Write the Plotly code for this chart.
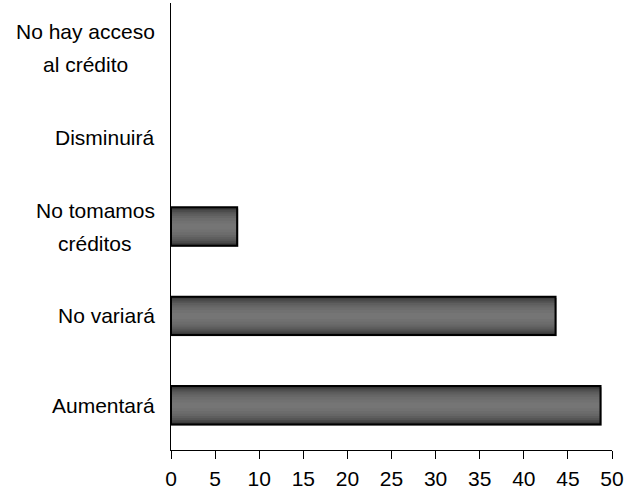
import plotly.graph_objects as go

categories = ["Aumentará", "No variará", "No tomamos<br>créditos", "Disminuirá", "No hay acceso<br>al crédito"]
values = [48.7, 43.6, 7.5, 0, 0]
x_ticks = [0, 5, 10, 15, 20, 25, 30, 35, 40, 45, 50]

FONT = "Liberation Sans, Arial, sans-serif"
FSIZE = 21
BAR_W = 0.43

# gradient layers: (width, color) from outside to inside
layers = [
    (0.43, "#303030"),
    (0.40, "#3e3e3e"),
    (0.37, "#4a4a4a"),
    (0.33, "#555555"),
    (0.29, "#5e5e5e"),
    (0.24, "#666666"),
    (0.19, "#6c6c6c"),
    (0.13, "#717171"),
    (0.07, "#757575"),
]

outline_w = [2 if v > 0 else 0 for v in values]

# approximate Arial/Liberation Sans advance widths (per 1000 em) for label centering
AW = {"N": 722, "o": 556, " ": 278, "h": 556, "a": 556, "y": 500, "c": 500, "e": 556,
      "s": 500, "l": 222, "r": 333, "é": 556, "d": 556, "i": 222, "t": 278, "D": 722,
      "m": 833, "n": 556, "u": 556, "á": 556, "v": 500, "A": 667}


def text_w(s):
    return sum(AW.get(ch, 556) for ch in s) / 1000 * FSIZE


fig = go.Figure()
# subtle shadow
fig.add_trace(go.Bar(
    x=[v + 0.15 if v > 0 else 0 for v in values], y=categories, orientation="h",
    width=BAR_W, offset=-BAR_W / 2 - 0.014,
    marker=dict(color="#bdbdbd", line=dict(width=0)),
    hoverinfo="skip", showlegend=False,
))
for w, c in layers:
    fig.add_trace(go.Bar(
        x=values, y=categories, orientation="h", width=w,
        marker=dict(color=c, line=dict(width=0)),
        hoverinfo="skip", showlegend=False,
    ))
fig.add_trace(go.Bar(
    x=values, y=categories, orientation="h", width=BAR_W,
    marker=dict(color="rgba(0,0,0,0)", line=dict(color="black", width=outline_w)),
    showlegend=False,
))

# category labels: centered multi-line blocks, right edge 16px left of the axis
GAP = 16
LINE_STEP = 33
for cat in categories:
    lines = cat.split("<br>")
    block = max(text_w(s) for s in lines)
    n = len(lines)
    for i, s in enumerate(lines):
        fig.add_annotation(
            x=0, xref="paper", y=cat, yref="y",
            text=s, showarrow=False,
            xanchor="center", yanchor="middle",
            xshift=-(GAP + block / 2),
            yshift=((n - 1) / 2 - i) * LINE_STEP,
            font=dict(family=FONT, size=FSIZE, color="black"),
        )

fig.update_layout(
    width=637, height=501,
    margin=dict(l=171, r=25, t=3, b=51),
    barmode="overlay",
    paper_bgcolor="white", plot_bgcolor="white",
    font=dict(family=FONT, size=FSIZE, color="black"),
    xaxis=dict(
        range=[0, 50], tickvals=x_ticks, showgrid=False, zeroline=False,
        showline=True, linecolor="black", linewidth=1,
        ticks="outside", ticklen=8, tickcolor="black", tickwidth=1,
        ticklabelstandoff=2, automargin=False,
    ),
    yaxis=dict(
        range=[-0.5, 4.5], showgrid=False, zeroline=False,
        showline=True, linecolor="black", linewidth=1,
        ticks="", showticklabels=False, automargin=False,
    ),
)

fig.write_html("out.html", config={"displayModeBar": False},
               post_script="document.body.style.margin='0';")
